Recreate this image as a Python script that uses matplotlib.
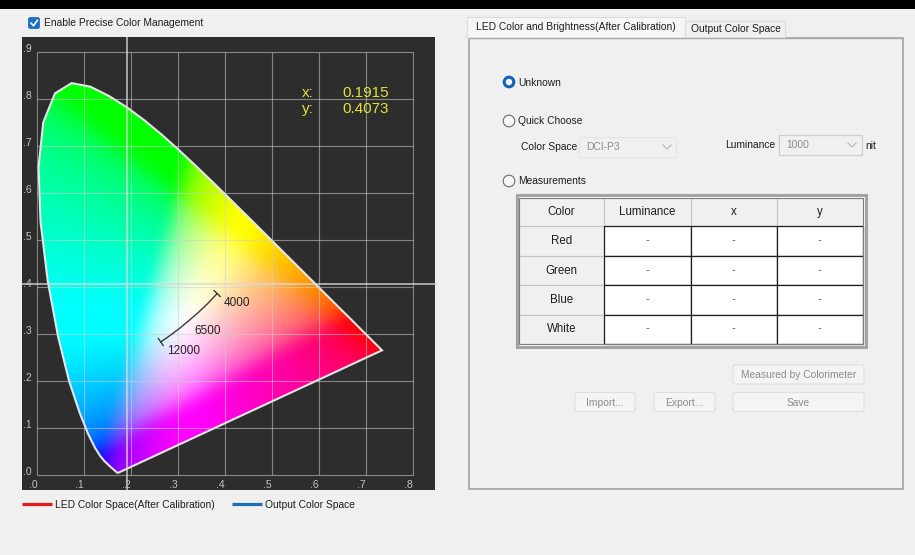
"""
CIE 1931 chromaticity view with the colour-management side panel.
"""

import numpy as np
import matplotlib
matplotlib.use("Agg")
import matplotlib.pyplot as plt
from matplotlib.patches import Rectangle, Polygon, Circle, FancyBboxPatch

plt.rcParams["font.family"] = ["Liberation Sans", "DejaVu Sans"]

# ============================================================
# DADOS
# ============================================================

# Spectral locus (CIE 1931 2 deg), closed by the purple line
LOCUS_NM = [380, 400, 420, 430, 440, 450, 460, 465, 470, 475, 480, 485, 490,
            495, 500, 505, 510, 515, 520, 525, 530, 535, 540, 545, 550, 555,
            560, 565, 570, 575, 580, 585, 590, 595, 600, 610, 620, 630, 640,
            650, 680, 700]
LOCUS_X = [0.1741, 0.1733, 0.1714, 0.1689, 0.1644, 0.1566, 0.1440, 0.1355,
           0.1241, 0.1096, 0.0913, 0.0687, 0.0454, 0.0235, 0.0082, 0.0039,
           0.0139, 0.0389, 0.0743, 0.1142, 0.1547, 0.1929, 0.2296, 0.2658,
           0.3016, 0.3373, 0.3731, 0.4087, 0.4441, 0.4788, 0.5125, 0.5448,
           0.5752, 0.6029, 0.6270, 0.6658, 0.6915, 0.7079, 0.7190, 0.7260,
           0.7334, 0.7347]
LOCUS_Y = [0.0050, 0.0048, 0.0051, 0.0069, 0.0109, 0.0177, 0.0297, 0.0399,
           0.0578, 0.0868, 0.1327, 0.2007, 0.2950, 0.4127, 0.5384, 0.6548,
           0.7502, 0.8120, 0.8338, 0.8262, 0.8059, 0.7816, 0.7543, 0.7243,
           0.6923, 0.6589, 0.6245, 0.5896, 0.5547, 0.5202, 0.4866, 0.4544,
           0.4242, 0.3965, 0.3725, 0.3340, 0.3083, 0.2920, 0.2809, 0.2740,
           0.2666, 0.2653]

# White-point curve (12000 K -> 4000 K)
CCT_X = [0.264, 0.284, 0.304, 0.322, 0.342, 0.363, 0.384]
CCT_Y = [0.283, 0.297, 0.312, 0.327, 0.344, 0.364, 0.386]
CCT_MARKS = ["12000", "6500", "4000"]
CCT_MARK_X = [0.262, 0.320, 0.384]
CCT_MARK_Y = [0.283, 0.325, 0.386]

# Cursor
CURSOR_X = 0.1915
CURSOR_Y = 0.4073

GRID_X = [0.0, 0.1, 0.2, 0.3, 0.4, 0.5, 0.6, 0.7, 0.8]
GRID_Y = [0.0, 0.1, 0.2, 0.3, 0.4, 0.5, 0.6, 0.7, 0.8, 0.9]

LEGEND_LABELS = ["LED Color Space(After Calibration)", "Output Color Space"]
LEGEND_COLORS = ["#e3191c", "#1f6cb8"]

TAB_LABELS = ["LED Color and Brightness(After Calibration)", "Output Color Space"]
RADIO_LABELS = ["Unknown", "Quick Choose", "Measurements"]
COLOR_SPACE = "DCI-P3"
LUMINANCE = "1000"

TABLE_HEADER = ["Color", "Luminance", "x", "y"]
TABLE_ROWS = ["Red", "Green", "Blue", "White"]
TABLE_VALUES = [["-", "-", "-"] for _ in TABLE_ROWS]

BUTTONS = ["Measured by Colorimeter", "Import...", "Export...", "Save"]

# ============================================================
# ESTILO
# ============================================================

BG = "#f0f0f0"
DARK = "#2d2d2d"
TXT = "#1e1e1e"
DIS = "#8c8c8c"
FS = 7.4
W, H = 915, 555

fig = plt.figure(figsize=(W / 100, H / 100), dpi=100, facecolor=BG)

# UI layer in pixel coordinates
ui = fig.add_axes([0, 0, 1, 1], zorder=0)
ui.set_xlim(0, W)
ui.set_ylim(H, 0)
ui.axis("off")
ui.set_facecolor(BG)

ui.add_patch(Rectangle((0, 0), W, 9, fc="black", ec="none"))

# checkbox
ui.add_patch(FancyBboxPatch((28.5, 17.5), 11, 11,
                            boxstyle="round,pad=0,rounding_size=2",
                            fc="#1a6fc4", ec="#1a6fc4", lw=0.6))
ui.plot([31, 33.5, 37.5], [23, 25.8, 20.2], color="white", lw=1.2,
        solid_capstyle="round")
ui.text(44, 23.5, "Enable Precise Color Management", fontsize=FS, color=TXT,
        va="center", ha="left")

# legend under the diagram
for i, (lab, col) in enumerate(zip(LEGEND_LABELS, LEGEND_COLORS)):
    x0 = 22 + i * 210
    ui.plot([x0, x0 + 30], [504, 504], color=col, lw=2.3, solid_capstyle="butt")
    ui.text(x0 + 33, 504.5, lab, fontsize=FS, color=TXT, va="center", ha="left")

# ------------------------------------------------------------
# Right panel
# ------------------------------------------------------------
ui.add_patch(Rectangle((469, 38), 434, 451, fc=BG, ec="#a9a9a9", lw=1.3))
ui.add_patch(Rectangle((467, 17), 218, 21, fc="#f6f6f6", ec="#dcdcdc", lw=0.8))
ui.add_patch(Rectangle((685, 21), 100, 17, fc=BG, ec="#dcdcdc", lw=0.8))
ui.plot([469, 903], [38, 38], color="#a9a9a9", lw=1.0)
ui.text(476, 27.5, TAB_LABELS[0], fontsize=FS, color=TXT, va="center", ha="left")
ui.text(691, 29.5, TAB_LABELS[1], fontsize=FS, color=TXT, va="center", ha="left")

radio_y = [82, 121, 181]
for i, (lab, ry) in enumerate(zip(RADIO_LABELS, radio_y)):
    if i == 0:
        ui.add_patch(Circle((509, ry), 4.8, fc="#f7f7f7", ec="#1163b8", lw=2.2))
    else:
        ui.add_patch(Circle((509, ry), 5.8, fc="#f7f7f7", ec="#6a6a6a", lw=0.8))
    ui.text(518, ry + 0.5, lab, fontsize=FS, color=TXT, va="center", ha="left")

# combo boxes
ui.text(521, 147.5, "Color Space", fontsize=FS, color=TXT, va="center", ha="left")
ui.add_patch(Rectangle((579, 137), 97, 20, fc=BG, ec="#e4e4e4", lw=0.8))
ui.text(586, 147.5, COLOR_SPACE, fontsize=FS, color=DIS, va="center", ha="left")
ui.plot([663, 667, 671], [145, 149, 145], color="#b4b4b4", lw=0.8)

ui.text(725, 145.5, "Luminance", fontsize=FS, color=TXT, va="center", ha="left")
ui.add_patch(Rectangle((779, 135), 83, 20, fc=BG, ec="#cfcfcf", lw=0.9))
ui.text(786, 145.5, LUMINANCE, fontsize=FS, color=DIS, va="center", ha="left")
ui.plot([848, 852, 856], [143, 147, 143], color="#b4b4b4", lw=0.8)
ui.text(865, 146, "nit", fontsize=FS, color=TXT, va="center", ha="left")

# measurement table
col_edges = [519, 604, 690.5, 776.5, 862.5]
row_edges = [197.5, 226, 255.5, 285, 314.5, 343.5]
ui.add_patch(Rectangle((516.5, 194.5), 349, 152, fc="white", ec="#a3a3a3", lw=2.2))
for j, head in enumerate(TABLE_HEADER):
    ui.add_patch(Rectangle((col_edges[j], row_edges[0]),
                           col_edges[j + 1] - col_edges[j],
                           row_edges[1] - row_edges[0],
                           fc=BG, ec="#c3c3c3", lw=0.8))
    ui.text((col_edges[j] + col_edges[j + 1]) / 2, (row_edges[0] + row_edges[1]) / 2 + 0.5,
            head, fontsize=8.3, color=TXT, ha="center", va="center")
for i, name in enumerate(TABLE_ROWS):
    y0, y1 = row_edges[i + 1], row_edges[i + 2]
    ui.add_patch(Rectangle((col_edges[0], y0), col_edges[1] - col_edges[0], y1 - y0,
                           fc=BG, ec="#c3c3c3", lw=0.8))
    ui.text((col_edges[0] + col_edges[1]) / 2, (y0 + y1) / 2 + 0.5, name,
            fontsize=8.3, color=TXT, ha="center", va="center")
    for j, val in enumerate(TABLE_VALUES[i]):
        ui.add_patch(Rectangle((col_edges[j + 1], y0),
                               col_edges[j + 2] - col_edges[j + 1], y1 - y0,
                               fc="white", ec="#1e1e1e", lw=0.9))
        ui.text((col_edges[j + 1] + col_edges[j + 2]) / 2, (y0 + y1) / 2 + 0.5, val,
                fontsize=8.3, color="#666666", ha="center", va="center")
ui.add_patch(Rectangle((519, 197.5), 343.5, 146, fc="none", ec="#7d7d7d", lw=0.8))

# buttons
btn_boxes = [(733, 365, 131, 19), (575, 392.5, 60, 19),
             (654, 392.5, 61, 19), (733, 392.5, 131, 19)]
for lab, (bx, by, bw, bh) in zip(BUTTONS, btn_boxes):
    ui.add_patch(FancyBboxPatch((bx, by), bw, bh,
                                boxstyle="round,pad=0,rounding_size=1.5",
                                fc="#f4f4f4", ec="#e0e0e0", lw=0.8))
    ui.text(bx + bw / 2, by + bh / 2 + 0.5, lab, fontsize=FS, color=DIS,
            ha="center", va="center")

# ------------------------------------------------------------
# Chromaticity diagram
# ------------------------------------------------------------
PX = 470.0  # pixels per chromaticity unit
x0_px, y0_px = 36.7, 475.0
left, right, top, bottom = 22, 435, 37, 490
ax = fig.add_axes([left / W, (H - bottom) / H, (right - left) / W, (bottom - top) / H],
                  zorder=1)
ax.set_facecolor(DARK)
ax.set_xlim((left - x0_px) / PX, (right - x0_px) / PX)
ax.set_ylim((y0_px - bottom) / PX, (y0_px - top) / PX)
for s in ax.spines.values():
    s.set_visible(False)
ax.set_xticks([])
ax.set_yticks([])


def box_blur(img, k, passes=3):
    """Separable box blur (edge padded), repeated to approximate a gaussian."""
    out = img.copy()
    h = k // 2
    for _ in range(passes):
        for axis in (0, 1):
            pad = [(0, 0)] * out.ndim
            pad[axis] = (h + 1, h)
            c = np.cumsum(np.pad(out, pad, mode="edge"), axis=axis)
            hi = np.take(c, np.arange(k, c.shape[axis]), axis=axis)
            lo = np.take(c, np.arange(0, c.shape[axis] - k), axis=axis)
            out = (hi - lo) / k
    return out


# colour fill: xy -> linear sRGB, soft normalisation, smoothed
gx = np.linspace(0.0, 0.75, 600)
gy = np.linspace(0.001, 0.85, 600)
mx, my = np.meshgrid(gx, gy)
cX = mx / my
cZ = (1 - mx - my) / my
r = 3.2406 * cX - 1.5372 - 0.4986 * cZ
g = -0.9689 * cX + 1.8758 + 0.0415 * cZ
b = 0.0557 * cX - 0.2040 + 1.0570 * cZ
rgb = np.clip(np.dstack([r, g, b]), 0, None)
p = 4.0
norm = np.maximum((rgb ** p).sum(axis=2, keepdims=True) ** (1 / p), 1e-6)
rgb = np.clip(rgb / norm * 3 ** (1 / p), 0, 1)
rgb = np.where(rgb <= 0.0031308, 12.92 * rgb, 1.055 * rgb ** (1 / 2.4) - 0.055)
rgb = box_blur(rgb, 21)
rgb = np.clip(rgb, 0, 1) ** 0.78

im = ax.imshow(rgb, origin="lower", extent=[0, 0.75, 0, 0.85],
               interpolation="bilinear", aspect="auto", zorder=2)
locus = Polygon(np.column_stack([LOCUS_X, LOCUS_Y]), closed=True,
                fc="none", ec="#e6e6e6", lw=1.5, zorder=3)
ax.add_patch(locus)
im.set_clip_path(locus)

# grid
ax.vlines(GRID_X, GRID_Y[0], GRID_Y[-1], color="#cfcfcf", alpha=0.55, lw=0.8, zorder=4)
ax.hlines(GRID_Y, GRID_X[0], GRID_X[-1], color="#cfcfcf", alpha=0.55, lw=0.8, zorder=4)

tick_kw = dict(fontsize=7.6, color="#c2c2c2", zorder=6)
for v in GRID_X:
    ax.text(v + 0.001, -0.021, f"{v:.1f}"[1:], ha="right", va="center", **tick_kw)
for v in GRID_Y:
    ax.text(-0.030, v + 0.006, f"{v:.1f}"[1:], ha="left", va="center", **tick_kw)

# white-point curve
ax.plot(CCT_X, CCT_Y, color="#3a3a3a", lw=1.0, zorder=5)
for i in (0, -1):
    j = 1 if i == 0 else -2
    dx, dy = CCT_X[i] - CCT_X[j], CCT_Y[i] - CCT_Y[j]
    n = np.hypot(dx, dy)
    px, py = -dy / n * 0.009, dx / n * 0.009
    ax.plot([CCT_X[i] - px, CCT_X[i] + px], [CCT_Y[i] - py, CCT_Y[i] + py],
            color="#3a3a3a", lw=1.0, zorder=5)
for lab, cx, cy in zip(CCT_MARKS, CCT_MARK_X, CCT_MARK_Y):
    ax.annotate(lab, xy=(cx, cy), xytext=(5, -6.5), textcoords="offset points",
                fontsize=8.5, color="#222222", ha="left", va="center", zorder=6)

# cursor
ax.axvline(CURSOR_X, color="#d9d9d9", lw=1.1, alpha=0.9, zorder=5)
ax.plot([ax.get_xlim()[0], (437 - x0_px) / PX], [CURSOR_Y, CURSOR_Y],
        color="#d9d9d9", lw=1.1, alpha=0.9, zorder=5, clip_on=False)
ax.text(0.5645, 0.8128, "x:", fontsize=11, color="#e2e23c", ha="left", va="center", zorder=6)
ax.text(0.5645, 0.7787, "y:", fontsize=11, color="#e2e23c", ha="left", va="center", zorder=6)
ax.text(0.6496, 0.8128, f"{CURSOR_X:.4f}", fontsize=11, color="#e2e23c",
        ha="left", va="center", zorder=6)
ax.text(0.6496, 0.7787, f"{CURSOR_Y:.4f}", fontsize=11, color="#e2e23c",
        ha="left", va="center", zorder=6)

plt.savefig("out.png", dpi=100, facecolor=BG)
plt.close()
